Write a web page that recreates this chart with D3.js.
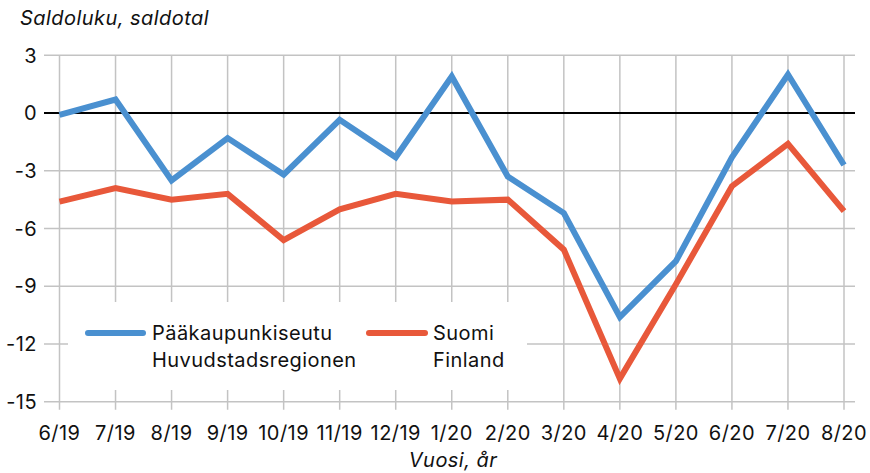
<!DOCTYPE html>
<html><head><meta charset="utf-8">
<script src="https://cdn.jsdelivr.net/npm/d3@7/dist/d3.min.js"></script>
<style>body{margin:0;background:#fff}svg{display:block;font-family:Inter,"Noto Sans",sans-serif}text{letter-spacing:0.45px}</style>
</head><body>
<svg id="c" width="870" height="473"></svg>
<script>
const categories = ["6/19","7/19","8/19","9/19","10/19","11/19","12/19","1/20","2/20","3/20","4/20","5/20","6/20","7/20","8/20"];
const helsinkiRegion = [-0.1,0.7,-3.5,-1.3,-3.2,-0.35,-2.3,1.9,-3.3,-5.2,-10.6,-7.7,-2.3,2.0,-2.7];
const finland = [-4.6,-3.9,-4.5,-4.2,-6.6,-5.0,-4.2,-4.6,-4.5,-7.1,-13.8,-8.9,-3.8,-1.6,-5.1];
const yTicks = [3,0,-3,-6,-9,-12,-15];
const seriesNames = [["Pääkaupunkiseutu","Huvudstadsregionen"],["Suomi","Finland"]];
const colors = ["#4A90D0","#E8583A"];

const svg = d3.select("#c");
const x = d3.scalePoint().domain(categories).range([59.5, 844]);
const y = d3.scaleLinear().domain([-15, 3]).range([401.7, 55.3]);
const left = 44, right = 855;
const fs = 20;

// horizontal grid
svg.append("g").selectAll("line").data(yTicks.filter(d=>d!==0)).join("line")
  .attr("x1", left).attr("x2", right)
  .attr("y1", d=>y(d)).attr("y2", d=>y(d))
  .attr("stroke", "#c3c3c3").attr("stroke-width", 1.5);
// vertical grid
svg.append("g").selectAll("line").data(categories).join("line")
  .attr("x1", d=>x(d)).attr("x2", d=>x(d))
  .attr("y1", y(3)).attr("y2", y(-15)+8)
  .attr("stroke", "#c3c3c3").attr("stroke-width", 1.5);

// legend background
svg.append("rect").attr("x", 68).attr("y", 302).attr("width", 459).attr("height", 88).attr("fill", "#fff");

// zero line
svg.append("line").attr("x1", left).attr("x2", right).attr("y1", y(0)).attr("y2", y(0))
  .attr("stroke", "#000").attr("stroke-width", 2);

// y labels
svg.append("g").selectAll("text").data(yTicks).join("text")
  .attr("x", 37).attr("y", d=>y(d)).attr("dy", "0.36em").attr("text-anchor","end")
  .attr("font-size", fs).attr("fill","#111").text(d=>d);
// x labels
svg.append("g").selectAll("text").data(categories).join("text")
  .attr("x", d=>x(d)).attr("y", 440).attr("text-anchor","middle")
  .attr("font-size", fs).attr("fill","#111").text(d=>d);

// titles
svg.append("text").attr("x", 20).attr("y", 25).attr("font-size", fs).attr("font-style","italic").attr("fill","#111").text("Saldoluku, saldotal");
svg.append("text").attr("x", 453).attr("y", 467).attr("text-anchor","middle").attr("font-size", fs).attr("font-style","italic").attr("fill","#111").text("Vuosi, år");

// lines
const line = d3.line().x((d,i)=>x(categories[i])).y(d=>y(d));
[helsinkiRegion, finland].forEach((s,k)=>{
  svg.append("path").datum(s).attr("d", line).attr("fill","none")
    .attr("stroke", colors[k]).attr("stroke-width", 6).attr("stroke-linejoin","miter").attr("stroke-linecap","butt");
});

// legend
const lg = [{x1:88,x2:143,tx:152},{x1:369,x2:425,tx:433}];
lg.forEach((l,k)=>{
  svg.append("line").attr("x1", l.x1).attr("x2", l.x2).attr("y1", 333).attr("y2", 333)
    .attr("stroke", colors[k]).attr("stroke-width", 6).attr("stroke-linecap","round");
  const t = svg.append("text").attr("x", l.tx).attr("y", 340).attr("font-size", fs).attr("fill","#111");
  t.append("tspan").attr("x", l.tx).text(seriesNames[k][0]);
  t.append("tspan").attr("x", l.tx).attr("y", 367).text(seriesNames[k][1]);
});
</script>
</body></html>
